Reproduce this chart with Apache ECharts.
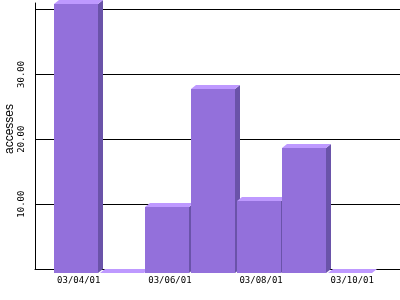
<!DOCTYPE html>
<html>
<head>
<meta charset="utf-8">
<script src="https://cdn.jsdelivr.net/npm/echarts@6/dist/echarts.min.js"></script>
<style>html,body{margin:0;padding:0;background:#fff;}#c{width:400px;height:300px;}</style>
</head>
<body>
<div id="c"></div>
<script>
const categories = ['03/04/01','03/05/01','03/06/01','03/07/01','03/08/01','03/09/01','03/10/01'];
const accesses = [41, 0, 10, 28, 11, 19, 0];
const yTickValues = [10, 20, 30];
const yMax = 41;

const chart = echarts.init(document.getElementById('c'), null, {renderer: 'canvas'});
const FRONT = '#9370DB', SIDE = '#6A53A9', TOP = '#BE99FF';
const labelFont = {fontFamily: 'DejaVu Sans Mono', fontSize: 9, color: '#000'};

chart.setOption({
  animation: false,
  backgroundColor: '#fff',
  grid: [
    {left: 35, right: 0, top: 0, bottom: 31},
    {left: 56, width: 319, top: 0, bottom: 31}
  ],
  xAxis: [
    {gridIndex: 0, type: 'value', min: 0, max: 1,
     axisLine: {show: true, lineStyle: {color: '#000', width: 1}},
     axisTick: {show: false}, axisLabel: {show: false}, splitLine: {show: false}},
    {gridIndex: 1, type: 'category', data: categories, boundaryGap: true,
     axisLine: {show: false}, axisTick: {show: false}, splitLine: {show: false},
     axisLabel: Object.assign({interval: 1, margin: 7}, labelFont)}
  ],
  yAxis: [
    {gridIndex: 0, type: 'value', min: 0, max: yMax, interval: 10,
     axisLine: {show: true, lineStyle: {color: '#000', width: 1}},
     axisTick: {show: false},
     splitLine: {show: true, showMaxLine: false, lineStyle: {color: '#000', width: 1}},
     axisLabel: Object.assign({rotate: 90, margin: 9,
       formatter: v => yTickValues.indexOf(v) >= 0 ? v.toFixed(2) : ''}, labelFont)},
    {gridIndex: 1, type: 'value', min: 0, max: yMax, show: false}
  ],
  graphic: [{
    type: 'text', x: 10, y: 129, rotation: Math.PI / 2,
    style: {text: 'accesses', font: '12px "Liberation Sans"', fill: '#000',
            textAlign: 'center', textVerticalAlign: 'middle'}
  }],
  series: [{
    type: 'custom', xAxisIndex: 1, yAxisIndex: 1, z: 5, clip: false,
    data: accesses.map((v, i) => [i, v]),
    encode: {x: 0, y: 1},
    renderItem: function (params, api) {
      const i = api.value(0), v = api.value(1);
      const top = api.coord([i, v]);
      const base = api.coord([i, 0]);
      const c = top[0];
      const dx = 5, dy = 4;
      const x0 = Math.round(c - 24.5), x1 = Math.round(c + 19.5);
      const yt = Math.round(top[1] + dy), yb = Math.round(base[1] + dy);
      return {
        type: 'group',
        children: [
          {type: 'rect', shape: {x: x0, y: yt, width: x1 - x0, height: yb - yt},
           style: {fill: FRONT}},
          {type: 'polygon', shape: {points: [[x1, yt], [x1 + dx, yt - dy], [x1 + dx, yb - dy], [x1, yb]]},
           style: {fill: SIDE}},
          {type: 'polygon', shape: {points: [[x0, yt], [x1, yt], [x1 + dx, yt - dy], [x0 + dx, yt - dy]]},
           style: {fill: TOP}}
        ]
      };
    }
  }]
});
</script>
</body>
</html>
